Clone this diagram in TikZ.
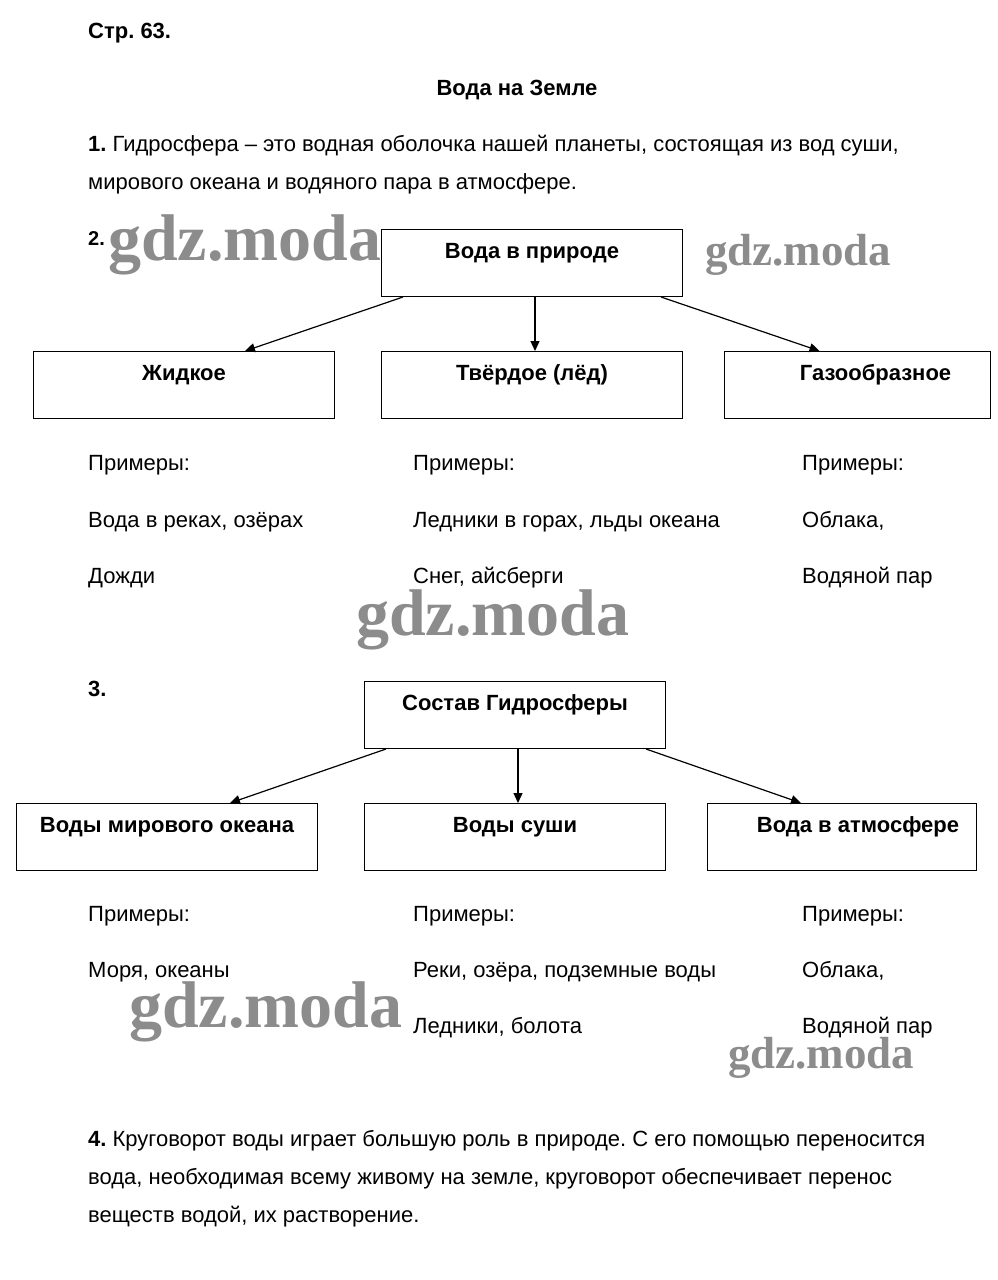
\documentclass[tikz,border=0pt]{standalone}
\usepackage{fontspec}
\setmainfont{Liberation Sans}
\newfontfamily\wmfont{Liberation Serif}
\usetikzlibrary{arrows.meta,calc}
\frenchspacing

\begin{document}
\begin{tikzpicture}[x=1pt,y=-1pt,
    every node/.style={inner sep=0pt,font=\fontsize{22}{26}\selectfont},
    txt/.style={anchor=base west},
    btxt/.style={anchor=base,font=\fontsize{22}{26}\selectfont\bfseries},
    kbox/.style={draw,line width=1pt,anchor=north west,minimum height=67pt},
    karr/.style={line width=1.2pt,-{Triangle[length=10pt,width=9pt]}},
    wm/.style={anchor=base west,text=black!45,font=\wmfont\bfseries\fontsize{#1}{#1}\selectfont}]
    \useasboundingbox (0,0) rectangle (998,1280);
    % header
    \node[txt,font=\fontsize{22}{26}\selectfont\bfseries] (page) at (88,38) {Стр. 63.};
    \node[btxt] (title) at (517,95) {Вода на Земле};
    \node[txt] (p1a) at (88,151) {\textbf{1.} Гидросфера – это водная оболочка нашей планеты, состоящая из вод суши,};
    \node[txt] (p1b) at (88,189) {мирового океана и водяного пара в атмосфере.};
    % part 2
    \node[txt,font=\fontsize{20}{24}\selectfont\bfseries] (n2) at (88,245) {2.};
    \node[kbox,minimum width=301pt] (voda) at (381,229) {};
    \node[kbox,minimum width=301pt] (zhid) at (33,351) {};
    \node[kbox,minimum width=301pt] (tverd) at (381,351) {};
    \node[kbox,minimum width=266pt] (gaz) at (724,351) {};
    \node[btxt] (vodat) at ($(voda.north)+(0,29)$) {Вода в природе};
    \node[btxt] (zhidt) at ($(zhid.north)+(0,29)$) {Жидкое};
    \node[btxt] (tverdt) at ($(tverd.north)+(0,29)$) {Твёрдое (лёд)};
    \node[btxt] (gazt) at ($(gaz.north)+(18,29)$) {Газообразное};
    \draw[karr] ($(voda.south west)+(22,0)$) -- ($(zhid.north)+(61,0)$);
    \draw[karr] ($(voda.south)+(3,0)$) -- ($(tverd.north)+(3,0)$);
    \draw[karr] ($(voda.south east)+(-22,0)$) -- ($(gaz.north)+(-38,0)$);
    \node[txt] (pr1) at (88,470) {Примеры:};
    \node[txt] (pr2) at (413,470) {Примеры:};
    \node[txt] (pr3) at (802,470) {Примеры:};
    \node[txt] (ex11) at (88,527) {Вода в реках, озёрах};
    \node[txt] (ex12) at (88,583) {Дожди};
    \node[txt] (ex21) at (413,527) {Ледники в горах, льды океана};
    \node[txt] (ex22) at (413,583) {Снег, айсберги};
    \node[txt] (ex31) at (802,527) {Облака,};
    \node[txt] (ex32) at (802,583) {Водяной пар};
    % part 3
    \node[txt,font=\fontsize{22}{26}\selectfont\bfseries] (n3) at (88,696) {3.};
    \node[kbox,minimum width=301pt] (sostav) at (364,681) {};
    \node[kbox,minimum width=301pt] (okean) at (16,803) {};
    \node[kbox,minimum width=301pt] (sushi) at (364,803) {};
    \node[kbox,minimum width=269pt] (atm) at (707,803) {};
    \node[btxt] (sostavt) at ($(sostav.north)+(0,29)$) {Состав Гидросферы};
    \node[btxt] (okeant) at ($(okean.north)+(0,29)$) {Воды мирового океана};
    \node[btxt] (sushit) at ($(sushi.north)+(0,29)$) {Воды суши};
    \node[btxt] (atmt) at ($(atm.north)+(16,29)$) {Вода в атмосфере};
    \draw[karr] ($(sostav.south west)+(22,0)$) -- ($(okean.north)+(63,0)$);
    \draw[karr] ($(sostav.south)+(3,0)$) -- ($(sushi.north)+(3,0)$);
    \draw[karr] ($(sostav.south east)+(-20,0)$) -- ($(atm.north)+(-41,0)$);
    \node[txt] (pr4) at (88,921) {Примеры:};
    \node[txt] (pr5) at (413,921) {Примеры:};
    \node[txt] (pr6) at (802,921) {Примеры:};
    \node[txt] (ex41) at (88,977) {Моря, океаны};
    \node[txt] (ex51) at (413,977) {Реки, озёра, подземные воды};
    \node[txt] (ex52) at (413,1033) {Ледники, болота};
    \node[txt] (ex61) at (802,977) {Облака,};
    \node[txt] (ex62) at (802,1033) {Водяной пар};
    % part 4
    \node[txt] (p4a) at (88,1146) {\textbf{4.} Круговорот воды играет большую роль в природе. С его помощью переносится};
    \node[txt] (p4b) at (88,1184) {вода, необходимая всему живому на земле, круговорот обеспечивает перенос};
    \node[txt] (p4c) at (88,1222) {веществ водой, их растворение.};
    % watermarks
    \node[wm=66] (wm1) at (108,260) {gdz.moda};
    \node[wm=45] (wm2) at (705,265) {gdz.moda};
    \node[wm=66] (wm3) at (356,635) {gdz.moda};
    \node[wm=66] (wm4) at (129,1027) {gdz.moda};
    \node[wm=45] (wm5) at (728,1068) {gdz.moda};
\end{tikzpicture}
\end{document}
